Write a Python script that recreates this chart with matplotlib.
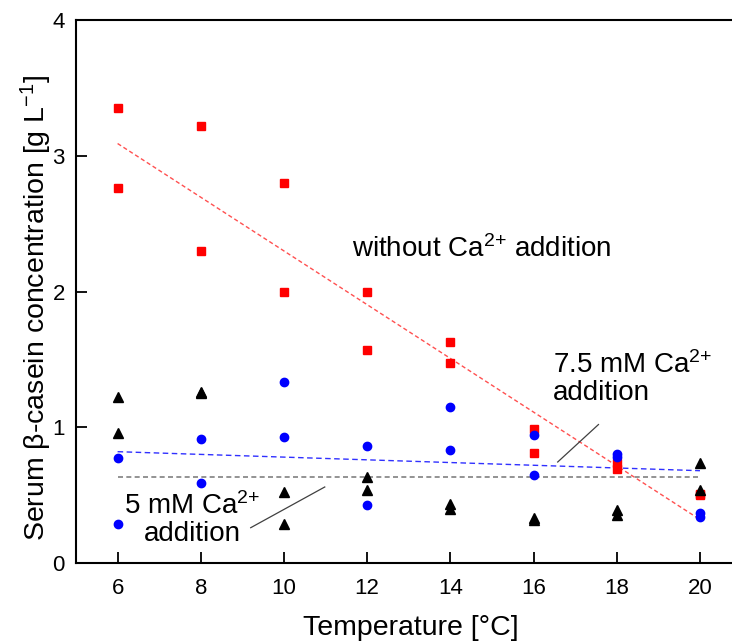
import numpy as np
import matplotlib
matplotlib.use("Agg")
import matplotlib.pyplot as plt

plt.rcParams['font.family'] = ['Liberation Sans', 'DejaVu Sans']
plt.rcParams['mathtext.fontset'] = 'custom'
plt.rcParams['mathtext.rm'] = 'Liberation Sans'
plt.rcParams['mathtext.it'] = 'Liberation Sans:italic'

# temperatures [°C]
temps = [6, 8, 10, 12, 14, 16, 18, 20]

# without Ca2+ addition (red squares), two replicates
red_a = [3.35, 3.22, 2.80, 2.00, 1.63, 0.99, 0.74, 0.51]
red_b = [2.76, 2.30, 2.00, 1.57, 1.47, 0.81, 0.69, 0.50]

# 7.5 mM Ca2+ addition (blue circles)
blue_a = [0.77, 0.91, 1.33, 0.86, 1.15, 0.94, 0.80, 0.37]
blue_b = [0.29, 0.59, 0.93, 0.43, 0.83, 0.65, 0.78, 0.34]

# 5 mM Ca2+ addition (black triangles)
black_a = [1.22, 1.26, 0.52, 0.63, 0.435, 0.33, 0.39, 0.74]
black_b = [0.96, 1.25, 0.29, 0.54, 0.40, 0.32, 0.35, 0.54]

# fitted lines (end points)
fit_x = [6, 20]
red_fit = [3.09, 0.32]
blue_fit = [0.82, 0.68]
gray_fit = [0.63, 0.63]

fig = plt.figure(figsize=(7.32, 6.41), dpi=100)
ax = fig.add_axes([76/732, 1-563/641, 1-76/732, (563-20)/641])

ax.plot(fit_x, red_fit, color='#ff5050', lw=1, ls=(0, (3, 2)))
ax.plot(fit_x, blue_fit, color='#3030ff', lw=1, ls=(0, (4, 2.5)))
ax.plot(fit_x, gray_fit, color='#808080', lw=1.2, ls=(0, (3, 2)))

for ys in (red_a, red_b):
    ax.plot(temps, ys, 's', color='#ff0000', ms=5.5, mec='#ff0000')
for ys in (black_a, black_b):
    ax.plot(temps, ys, '^', color='black', ms=6.5)
for ys in (blue_a, blue_b):
    ax.plot(temps, ys, 'o', color='#0000ff', ms=6)

# annotation pointer lines
ax.plot([9.20, 10.98], [0.26, 0.56], color='#404040', lw=0.9)
ax.plot([16.58, 17.56], [0.744, 1.02], color='#404040', lw=0.9)

sup = '$^{2{+}}$'
ax.text(11.63, 2.31, 'without Ca' + sup + ' addition', fontsize=20,
        ha='left', va='center')
ax.text(16.46, 1.36, '7.5 mM Ca' + sup + '\naddition', fontsize=20,
        ha='left', va='center', linespacing=1.05)
ax.text(7.79, 0.32, '5 mM Ca' + sup + '\naddition', fontsize=20,
        ha='center', va='center', multialignment='center', linespacing=1.05)

ax.set_xlim(5.0, 20.77)
ax.set_ylim(0, 4)
ax.set_xticks(temps)
ax.set_yticks([0, 1, 2, 3, 4])
ax.tick_params(direction='in', length=8, width=1.3, labelsize=16, pad=11,
               top=False, right=False)
ax.tick_params(axis='y', pad=8)
for s in ('left', 'bottom', 'top'):
    ax.spines[s].set_linewidth(1.5)
ax.spines['right'].set_visible(False)

ax.set_xlabel('Temperature [°C]', fontsize=20.5)
ax.xaxis.set_label_coords(0.51, -0.095)
ax.set_ylabel('Serum β-casein concentration [g L$^{-1}$]', fontsize=20.5)
ax.yaxis.set_label_coords(-0.034, 0.47)

fig.savefig('out.png', dpi=100)
